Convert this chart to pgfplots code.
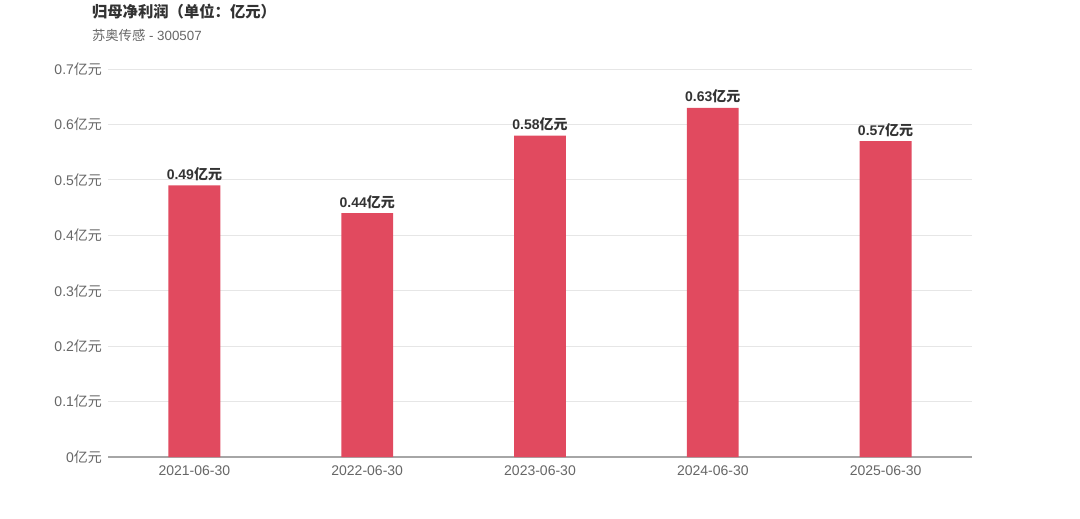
\documentclass[border=0pt]{standalone}
\usepackage{pgfplots}
\pgfplotsset{compat=1.18}
\usepackage{fontspec}
\setmainfont{Liberation Sans}
\newfontfamily\cjk{Noto Sans CJK SC}
\definecolor{barred}{HTML}{E14A5F}
\definecolor{gridgray}{HTML}{E6E6E6}
\definecolor{axisgray}{HTML}{A6A6A6}
\definecolor{ticktext}{HTML}{666666}
\definecolor{titletext}{HTML}{333333}
\newcommand\yy{{\cjk 亿元}}
\begin{document}
\begin{tikzpicture}
  \path (0pt,0pt) rectangle (810pt,388.5pt);
  % title and subtitle
  \node[anchor=west, font=\fontsize{11.5}{12}\selectfont\bfseries, text=titletext] at (65.5pt,379.5pt) {\cjk 归母净利润（单位：亿元）};
  \node[anchor=west, font=\fontsize{10}{12}\selectfont, text=ticktext] at (65.5pt,362.3pt) {{\cjk 苏奥传感} - 300507};
  \begin{axis}[
    at={(81pt,45.75pt)}, anchor=south west,
    scale only axis,
    width=648pt, height=291pt,
    xmin=-0.5, xmax=4.5,
    ymin=0, ymax=0.7,
    ybar, bar width=0.3,
    axis x line*=bottom,
    axis y line*=left,
    y axis line style={draw=none},
    x axis line style={axisgray, line width=0.9pt},
    xtick=data,
    xticklabels={2021-06-30,2022-06-30,2023-06-30,2024-06-30,2025-06-30},
    ytick={0,0.1,0.2,0.3,0.4,0.5,0.6,0.7},
    yticklabels={0\yy,0.1\yy,0.2\yy,0.3\yy,0.4\yy,0.5\yy,0.6\yy,0.7\yy},
    ymajorgrids,
    grid style={gridgray, line width=0.6pt},
    major tick length=0pt,
    tick label style={font=\fontsize{10.5}{12}\selectfont, text=ticktext},
    xticklabel style={yshift=-3pt},
    yticklabel style={xshift=-1pt},
    nodes near coords={\pgfmathprintnumber[fixed,fixed zerofill,precision=2]{\pgfplotspointmeta}\yy},
    every node near coord/.append style={font=\fontsize{10.5}{12}\selectfont\bfseries, text=titletext, yshift=0pt},
    /pgf/number format/assume math mode=true,
    clip=false,
  ]
    \addplot[fill=barred, draw=none] coordinates {
      (0,0.49) (1,0.44) (2,0.58) (3,0.63) (4,0.57)
    };
  \end{axis}
\end{tikzpicture}
\end{document}
